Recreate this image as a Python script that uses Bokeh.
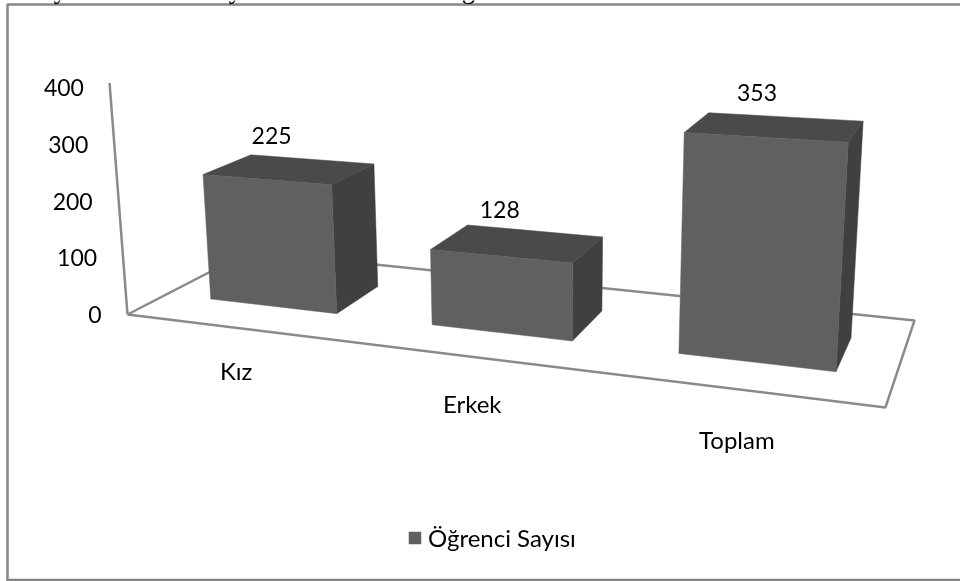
from bokeh.plotting import figure
from bokeh.models import Range1d, ColumnDataSource, Legend, LegendItem
from bokeh.core.properties import value
from bokeh.embed import file_html
from bokeh.resources import INLINE

categories = ["Kız", "Erkek", "Toplam"]
ogrenci_sayisi = [225, 128, 353]
tick_values = [0, 100, 200, 300, 400]
series_name = "Öğrenci Sayısı"
title_fragments = ["y", "y", "g"]

FONT = "Lato"
AXIS_MAX = 400
FRONT, TOP, SIDE = "#606060", "#4a4a4a", "#404040"
LINE = "#8a8a8a"


def floor(u, w):
    den = 1 - 0.1594 * u + 0.1468 * w
    return (616.9 * u + 158.6 * w + 127) / den, (28.1 * u - 26.2 * w + 314) / den


def project(u, w, v):
    fx, fy = floor(u, w)
    s = 90.4 + 0.012 * fx + 0.43 * fy
    h = s * v / AXIS_MAX
    return fx + (548 - fx) / (5743 - fy) * (-h), fy - h


p = figure(width=960, height=581, x_range=Range1d(0, 960), y_range=Range1d(581, 0),
           output_backend="svg", toolbar_location=None, min_border=0,
           x_axis_type="linear", outline_line_color=None)
p.axis.visible = False
p.grid.visible = False
p.styles = {"position": "fixed", "left": "0px", "top": "0px"}
p.background_fill_color = "white"

# outer frame
p.line([7, 7, 962], [583, 4, 4], line_color="#868686", line_width=2.5)
p.line([6, 962], [579.5, 579.5], line_color="#868686", line_width=2.5)

# floor and wall edge
corners = [(0, 0), (1, 0), (1, 1), (0, 1), (0, 0)]
fl = [floor(u, w) for u, w in corners]
p.line([a for a, _ in fl], [b for _, b in fl], line_color=LINE, line_width=2.5)
wall = [project(0, 0, 0), project(0, 0, AXIS_MAX * 1.02)]
p.line([a for a, _ in wall], [b for _, b in wall], line_color=LINE, line_width=2.5)

# bars
HALF = 0.097
W0, W1 = 0.297, 0.695


def face(points):
    pts = [project(*q) for q in points]
    return [a for a, _ in pts], [b for _, b in pts]


fx, fy, tx, ty, sx, sy = [], [], [], [], [], []
for i, v in enumerate(ogrenci_sayisi):
    c = (i + 0.5) / len(categories)
    a, b = c - HALF, c + HALF
    x, y = face([(a, W0, 0), (b, W0, 0), (b, W0, v), (a, W0, v)]); fx.append(x); fy.append(y)
    x, y = face([(a, W0, v), (b, W0, v), (b, W1, v), (a, W1, v)]); tx.append(x); ty.append(y)
    x, y = face([(b, W0, 0), (b, W1, 0), (b, W1, v), (b, W0, v)]); sx.append(x); sy.append(y)

p.patches(sx, sy, fill_color=SIDE, line_color=SIDE, line_width=0.5)
p.patches(tx, ty, fill_color=TOP, line_color=TOP, line_width=0.5)
front = p.patches(fx, fy, fill_color=FRONT, line_color=FRONT, line_width=0.5)


def label(xs, ys, texts, align="center", size="23px", font=FONT, baseline="middle"):
    src = ColumnDataSource(dict(x=xs, y=ys, t=texts))
    p.text("x", "y", text="t", source=src, text_align=align, text_baseline=baseline,
           text_font=value(font), text_font_size=size, text_color="#000000")


# value labels
lab = [project((i + 0.5) / len(categories), (W0 + W1) / 2, v) for i, v in enumerate(ogrenci_sayisi)]
label([a - 18 for a, _ in lab], [b - 34 for _, b in lab], [str(v) for v in ogrenci_sayisi])

# value-axis tick labels
tk = [project(0, 0, t) for t in tick_values]
label([a - 26 for a, _ in tk], [b for _, b in tk], [str(t) for t in tick_values], align="right")

# category labels
cl = [project((i + 0.5) / len(categories), 0, -AXIS_MAX * 0.197) for i in range(len(categories))]
label([a - 4 + 0.004 * a for a, _ in cl], [b - 3 for _, b in cl], categories, size="24px")

# cut-off serif line above the chart
label([60, 235, 468], [-12, -12, -12], title_fragments, size="27px", font="Liberation Serif", baseline="alphabetic")

legend = Legend(items=[LegendItem(label=series_name, renderers=[front])],
                location=(407, 29), orientation="horizontal", border_line_color=None,
                background_fill_alpha=0, padding=0, margin=0, glyph_width=15, glyph_height=15,
                label_standoff=6, label_text_font=FONT, label_text_font_size="24px",
                label_text_color="#000000", label_height=15)
p.add_layout(legend, "center")

open("out.html", "w").write(file_html(p, INLINE))
